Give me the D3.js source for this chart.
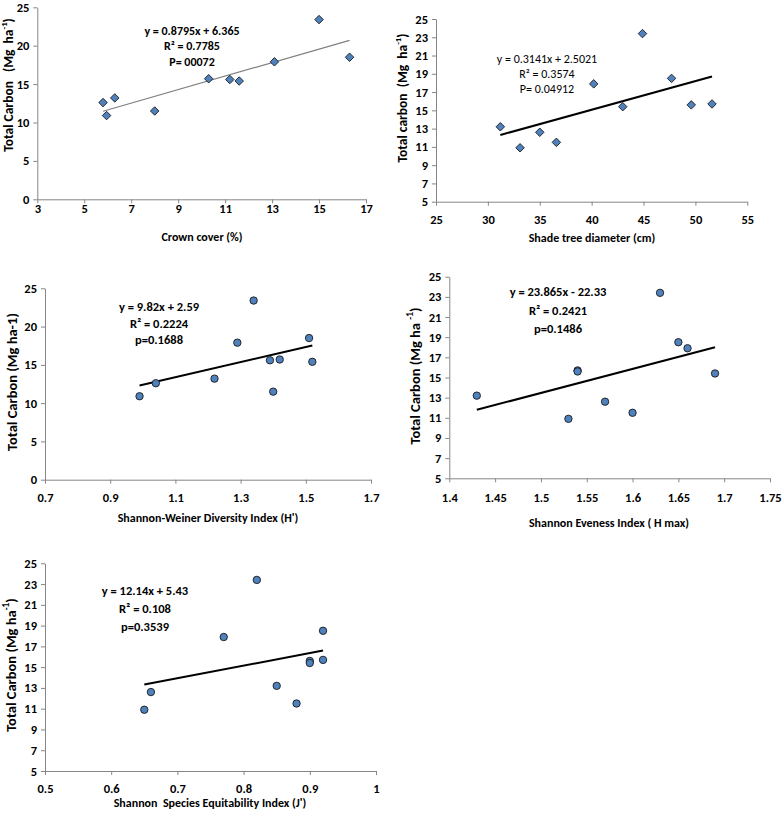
<!DOCTYPE html>
<html>
<head>
<meta charset="utf-8">
<script src="https://cdn.jsdelivr.net/npm/d3@7/dist/d3.min.js"></script>
<style>
  html, body { margin: 0; padding: 0; background: #fff; }
  svg { display: block; }
  text { font-family: Carlito, Lato, "Liberation Sans", sans-serif; white-space: pre; }
</style>
</head>
<body>
<svg id="chart" width="784" height="822"></svg>
<script>
// ---------------- DATA ----------------
const crownCover    = [5.8, 5.95, 6.3, 8.0, 10.3, 11.2, 11.6, 13.1, 15.0, 16.3];
const carbonCrown   = [12.6, 10.9, 13.2, 11.5, 15.7, 15.6, 15.4, 17.9, 23.4, 18.5];

const shadeDiameter = [31.2, 33.1, 35.0, 36.6, 40.2, 43.0, 44.9, 47.7, 49.6, 51.6];
const carbonShade   = [13.2, 10.9, 12.6, 11.5, 17.9, 15.4, 23.4, 18.5, 15.6, 15.7];

const shannonH      = [0.99, 1.04, 1.22, 1.29, 1.34, 1.39, 1.40, 1.42, 1.51, 1.52];
const carbonH       = [10.9, 12.6, 13.2, 17.9, 23.4, 15.6, 11.5, 15.7, 18.5, 15.4];

const evenness      = [1.43, 1.53, 1.54, 1.54, 1.57, 1.60, 1.63, 1.65, 1.66, 1.69];
const carbonE       = [13.2, 10.9, 15.7, 15.6, 12.6, 11.5, 23.4, 18.5, 17.9, 15.4];

const equitability  = [0.65, 0.66, 0.77, 0.82, 0.85, 0.88, 0.90, 0.90, 0.92, 0.92];
const carbonJ       = [10.9, 12.6, 17.9, 23.4, 13.2, 11.5, 15.6, 15.4, 18.5, 15.7];

const slopes      = [0.8795, 0.3141, 9.82, 23.865, 12.14];
const intercepts  = [6.365, 2.5021, 2.59, -22.33, 5.43];

const eqTexts = [
  ["y = 0.8795x + 6.365", "R² = 0.7785", "P= 00072"],
  ["y = 0.3141x + 2.5021", "R² = 0.3574", "P= 0.04912"],
  ["y = 9.82x + 2.59", "R² = 0.2224", "p=0.1688"],
  ["y = 23.865x - 22.33", "R² = 0.2421", "p=0.1486"],
  ["y = 12.14x + 5.43", "R² = 0.108", "p=0.3539"]
];

const xTitles = ["Crown cover (%)", "Shade tree diameter (cm)", "Shannon-Weiner Diversity Index (H')",
                 "Shannon Eveness Index ( H max)", "Shannon  Species Equitability Index (J')"];
// y titles: [main text, superscript, closing]
const yTitles = [["Total Carbon   (Mg  ha", "-1", ")"], ["Total carbon  (Mg  ha", "-1", ")"],
                 ["Total Carbon (Mg ha-1)", "", ""], ["Total Carbon (Mg ha ", "-1", ")"],
                 ["Total Carbon (Mg ha", "-1", ")"]];

const xTicks1 = [3, 5, 7, 9, 11, 13, 15, 17];
const xTicks2 = [25, 30, 35, 40, 45, 50, 55];
const xTicks3 = [0.7, 0.9, 1.1, 1.3, 1.5, 1.7];
const xTicks4 = [1.4, 1.45, 1.5, 1.55, 1.6, 1.65, 1.7, 1.75];
const xTicks5 = [0.5, 0.6, 0.7, 0.8, 0.9, 1];
const yTicksA = [0, 5, 10, 15, 20, 25];
const yTicksB = [5, 7, 9, 11, 13, 15, 17, 19, 21, 23, 25];

// ---------------- LAYOUT ----------------
const panels = [
  { xs: crownCover, ys: carbonCrown, xd: [3, 17], yd: [0, 25], xt: xTicks1, yt: yTicksA,
    x0: 37.3, x1: 366, y0: 199.3, y1: 7.3, marker: "diamond", lineColor: "#808080", lineW: 1.2,
    xLabOff: 14, xTitleY: 241, xTitleX: 202, yTitleX: 10, yTitleY: 85, yTitleSize: 13.5,
    eqX: 192, eqY: 32, eqDy: 15.5, eqBold: true, eqSize: 12 },
  { xs: shadeDiameter, ys: carbonShade, xd: [25, 55], yd: [5, 25], xt: xTicks2, yt: yTicksB,
    x0: 436, x1: 747.3, y0: 201.7, y1: 19, marker: "diamond", lineColor: "#000", lineW: 2,
    xLabOff: 22, xTitleY: 242, xTitleX: 592, yTitleX: 404, yTitleY: 98, yTitleSize: 13.5,
    eqX: 547, eqY: 60, eqDy: 15, eqBold: false, eqSize: 12 },
  { xs: shannonH, ys: carbonH, xd: [0.7, 1.7], yd: [0, 25], xt: xTicks3, yt: yTicksA,
    x0: 45, x1: 371, y0: 479.7, y1: 288.3, marker: "circle", lineColor: "#000", lineW: 2,
    xLabOff: 22, xTitleY: 522, xTitleX: 208, yTitleX: 13, yTitleY: 382, yTitleSize: 14.5,
    eqX: 159, eqY: 308, eqDy: 16.5, eqBold: true, eqSize: 12.5 },
  { xs: evenness, ys: carbonE, xd: [1.4, 1.75], yd: [5, 25], xt: xTicks4, yt: yTicksB,
    x0: 449.3, x1: 770, y0: 478.3, y1: 276.7, marker: "circle", lineColor: "#000", lineW: 2,
    xLabOff: 24, xTitleY: 527, xTitleX: 609, yTitleX: 416, yTitleY: 376, yTitleSize: 14.5,
    eqX: 558, eqY: 293, eqDy: 18.5, eqBold: true, eqSize: 12.5 },
  { xs: equitability, ys: carbonJ, xd: [0.5, 1], yd: [5, 25], xt: xTicks5, yt: yTicksB,
    x0: 45, x1: 376, y0: 771, y1: 563.3, marker: "circle", lineColor: "#000", lineW: 2,
    xLabOff: 22, xTitleY: 807, xTitleX: 210, yTitleX: 12, yTitleY: 665, yTitleSize: 14.5,
    eqX: 145, eqY: 592, eqDy: 18, eqBold: true, eqSize: 12.5 }
];

const svg = d3.select("#chart");
const fill = "#4F81BD";
const outline = "#1a1a1a";
const axisColor = "#868686";

panels.forEach((p, i) => {
  const x = d3.scaleLinear().domain(p.xd).range([p.x0, p.x1]);
  const y = d3.scaleLinear().domain(p.yd).range([p.y0, p.y1]);
  const g = svg.append("g");

  // x axis
  const xAxis = d3.axisBottom(x).tickValues(p.xt).tickSize(4).tickSizeOuter(0)
    .tickFormat(d => String(+d.toFixed(2)));
  const gx = g.append("g").attr("transform", `translate(0,${p.y0})`).call(xAxis);
  gx.select(".domain").attr("stroke", axisColor);
  gx.selectAll(".tick line").attr("stroke", axisColor);
  gx.selectAll(".tick text").attr("fill", "#000").attr("font-size", 12.5).attr("font-weight", "bold")
    .attr("y", p.xLabOff).attr("dy", "0");

  // y axis
  const yAxis = d3.axisLeft(y).tickValues(p.yt).tickSize(4).tickSizeOuter(0);
  const gy = g.append("g").attr("transform", `translate(${p.x0},0)`).call(yAxis);
  gy.select(".domain").attr("stroke", axisColor);
  gy.selectAll(".tick line").attr("stroke", axisColor);
  gy.selectAll(".tick text").attr("fill", "#000").attr("font-size", 12.5).attr("font-weight", "bold")
    .attr("x", -8);

  // trend line
  const ext = d3.extent(p.xs);
  const line = d3.line().x(d => x(d)).y(d => y(slopes[i] * d + intercepts[i]));
  g.append("path").datum(ext).attr("d", line).attr("fill", "none")
    .attr("stroke", p.lineColor).attr("stroke-width", p.lineW);

  // markers
  const pts = p.xs.map((v, k) => [v, p.ys[k]]);
  if (p.marker === "diamond") {
    g.selectAll("path.pt").data(pts).join("path").attr("class", "pt")
      .attr("d", d3.symbol().type(d3.symbolDiamond2).size(46))
      .attr("transform", d => `translate(${x(d[0])},${y(d[1])})`)
      .attr("fill", fill).attr("stroke", outline).attr("stroke-width", 0.9);
  } else {
    g.selectAll("circle.pt").data(pts).join("circle").attr("class", "pt")
      .attr("cx", d => x(d[0])).attr("cy", d => y(d[1])).attr("r", 3.7)
      .attr("fill", fill).attr("stroke", outline).attr("stroke-width", 0.9);
  }

  // equation
  eqTexts[i].forEach((t, k) => {
    g.append("text").attr("x", p.eqX).attr("y", p.eqY + k * p.eqDy)
      .attr("text-anchor", "middle").attr("dominant-baseline", "middle")
      .attr("font-size", p.eqSize).attr("font-weight", p.eqBold ? "bold" : "normal")
      .text(t);
  });

  // x title
  g.append("text").attr("x", p.xTitleX).attr("y", p.xTitleY).attr("text-anchor", "middle")
    .attr("font-size", 12).attr("font-weight", "bold").text(xTitles[i]);

  // y title
  const yt = g.append("text").attr("transform", `translate(${p.yTitleX},${p.yTitleY}) rotate(-90)`)
    .attr("text-anchor", "middle").attr("dominant-baseline", "middle")
    .attr("font-size", p.yTitleSize).attr("font-weight", "bold");
  yt.append("tspan").text(yTitles[i][0]);
  if (yTitles[i][1]) {
    yt.append("tspan").attr("font-size", p.yTitleSize * 0.65).attr("dy", -5).text(yTitles[i][1]);
    yt.append("tspan").attr("dy", 5).text(yTitles[i][2]);
  }
});
</script>
</body>
</html>
